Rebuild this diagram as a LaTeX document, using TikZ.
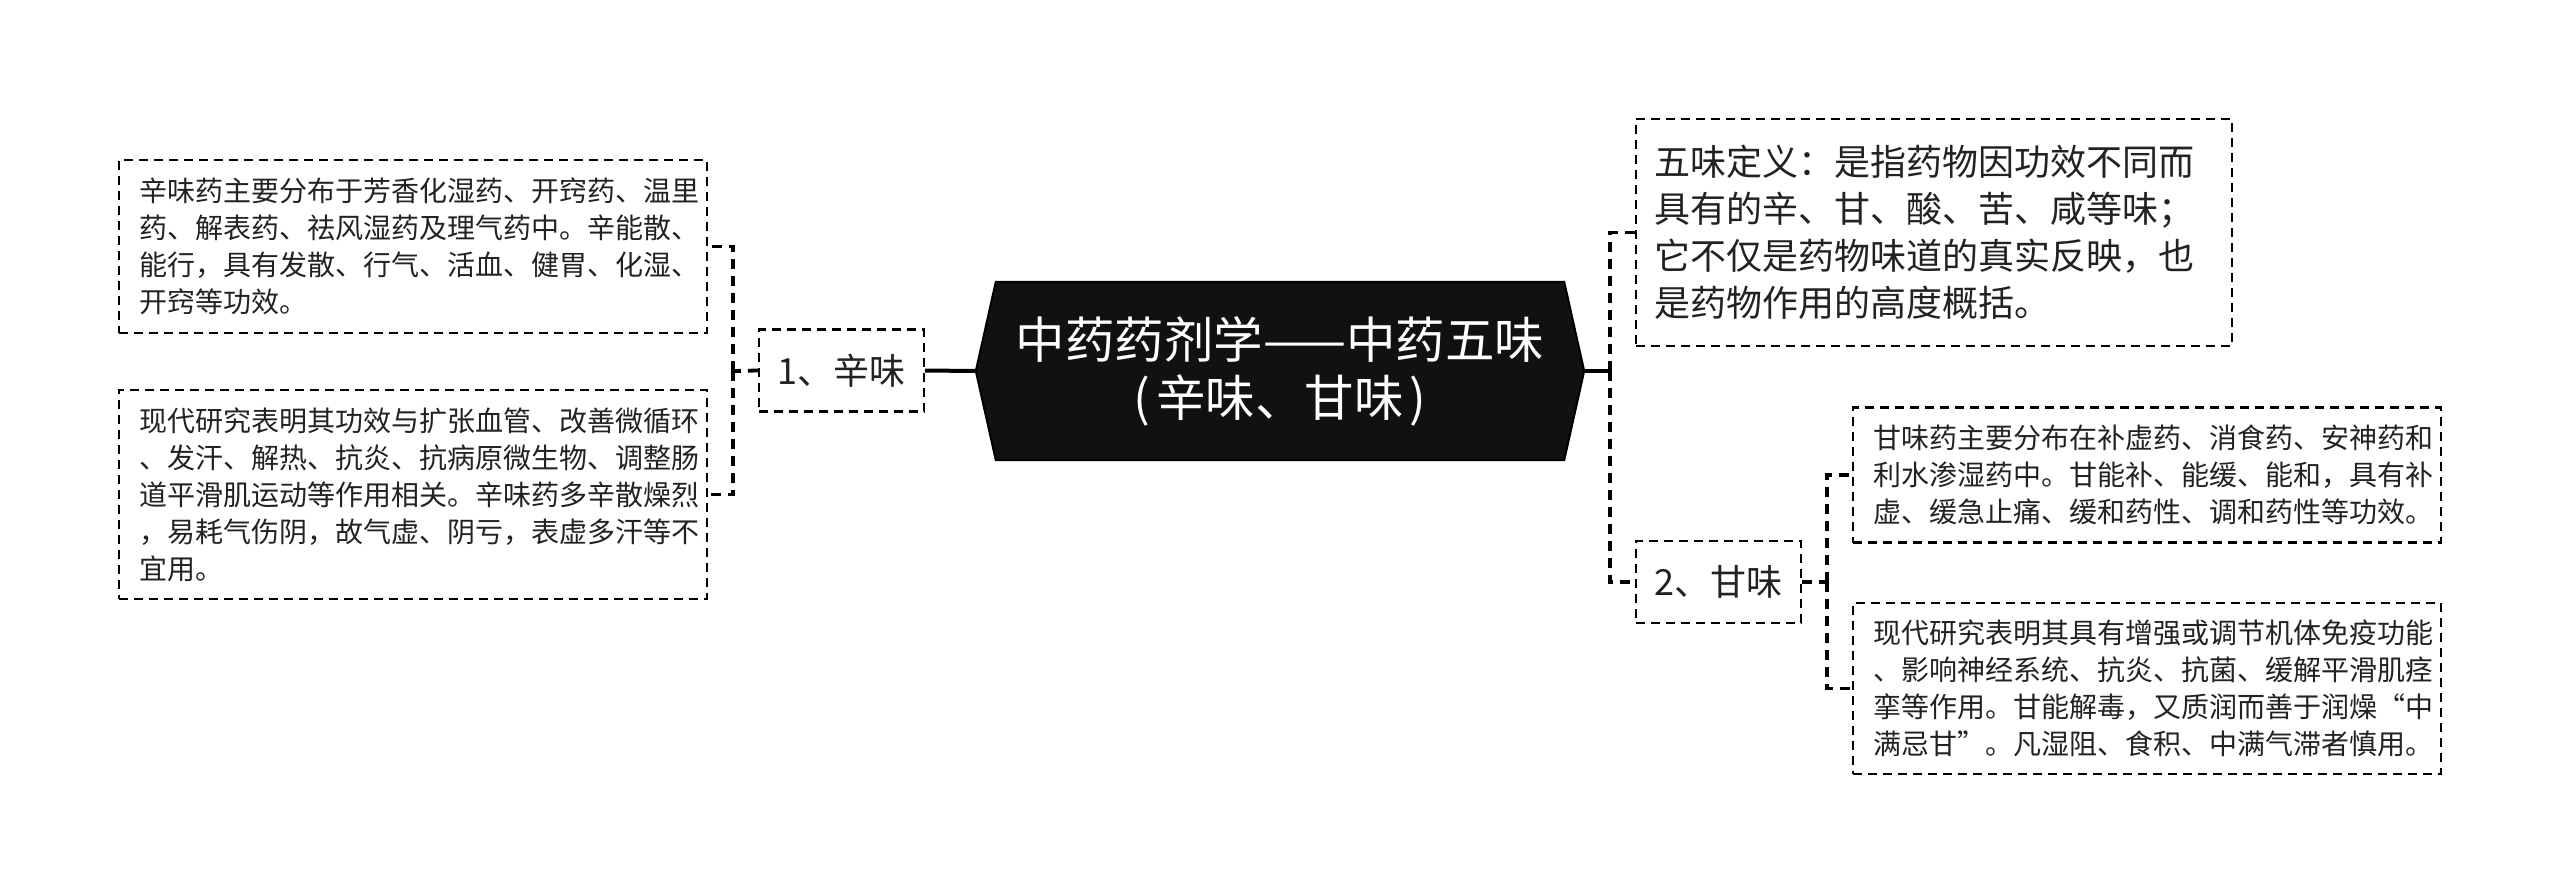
\documentclass[tikz,border=0pt]{standalone}
\usepackage{fontspec}
\setmainfont{Noto Sans CJK SC}
\newfontfamily\cjk{Noto Sans CJK SC}
\usetikzlibrary{backgrounds}
\definecolor{txt}{HTML}{222222}
\definecolor{rootfill}{HTML}{111111}
\tikzset{
  leafbox/.style={draw=black, line width=2.2pt, dash pattern=on 9pt off 6pt,
    inner xsep=20pt, inner ysep=0pt, align=left, text=txt,
    font=\cjk\fontsize{28}{37}\selectfont},
  defbox/.style={draw=black, line width=2.2pt, dash pattern=on 9pt off 6pt,
    inner xsep=18pt, inner ysep=0pt, align=left, text=txt,
    font=\cjk\fontsize{36}{47}\selectfont},
  midbox/.style={draw=black, line width=2.2pt, dash pattern=on 9pt off 6pt,
    minimum width=165pt, minimum height=82pt, inner sep=0pt, text=txt,
    font=\cjk\fontsize{36}{47}\selectfont},
  rootbox/.style={minimum width=608pt, minimum height=178pt, inner sep=0pt,
    align=center, text=white, font=\cjk\fontsize{49.5}{58}\selectfont},
  conn/.style={draw=black, line width=3.8pt, dash pattern=on 10pt off 7pt},
  rootline/.style={draw=black, line width=4pt},
}
\begin{document}
\begin{tikzpicture}[x=1pt,y=-1pt]
\useasboundingbox (0,0) rectangle (2560,895);

% root
\node[rootbox] (root) at (1280,371) {中药药剂学——中药五味\\(\kern6pt 辛味、甘味\kern6pt)};
\begin{scope}[on background layer]
\fill[white] (0,0) rectangle (2560,895);
\fill[rootfill, draw=black, line width=2pt]
  (root.west) -- ([xshift=20pt]root.north west) -- ([xshift=-20pt]root.north east)
  -- (root.east) -- ([xshift=-20pt]root.south east) -- ([xshift=20pt]root.south west) -- cycle;
\end{scope}

% left branch
\node[midbox] (xin) at (841.5,370.5) {1、辛味};
\node[leafbox, text width=548pt, minimum height=173pt] (l1) at (413,246.5)
  {辛味药主要分布于芳香化湿药、开窍药、温里\\药、解表药、祛风湿药及理气药中。辛能散、\\能行，具有发散、行气、活血、健胃、化湿、\\开窍等功效。};
\node[leafbox, text width=548pt, minimum height=209pt] (l2) at (413,494.5)
  {现代研究表明其功效与扩张血管、改善微循环\\、发汗、解热、抗炎、抗病原微生物、调整肠\\道平滑肌运动等作用相关。辛味药多辛散燥烈\\，易耗气伤阴，故气虚、阴亏，表虚多汗等不\\宜用。};

% right branch
\node[defbox, text width=560pt, minimum height=227pt] (def) at (1934,232.5)
  {五味定义：是指药物因功效不同而\\具有的辛、甘、酸、苦、咸等味；\\它不仅是药物味道的真实反映，也\\是药物作用的高度概括。};
\node[midbox] (gan) at (1718.5,582) {2、甘味};
\node[leafbox, text width=548pt, minimum height=135pt] (g1) at (2147,475)
  {甘味药主要分布在补虚药、消食药、安神药和\\利水渗湿药中。甘能补、能缓、能和，具有补\\虚、缓急止痛、缓和药性、调和药性等功效。};
\node[leafbox, text width=548pt, minimum height=171pt] (g2) at (2147,688.5)
  {现代研究表明其具有增强或调节机体免疫功能\\、影响神经系统、抗炎、抗菌、缓解平滑肌痉\\挛等作用。甘能解毒，又质润而善于润燥“中\\满忌甘”。凡湿阻、食积、中满气滞者慎用。};

% connectors
\coordinate (lj) at (733,371);
\coordinate (rj) at (1610,371);
\coordinate (gj) at (1827,582);
\draw[rootline] (xin.east) -- (root.west);
\draw[conn] (xin.west) -- (lj);
\draw[conn] (lj) |- (l1.east);
\draw[conn] (lj) |- (l2.east);
\draw[rootline] (root.east) -- (rj);
\draw[conn] (rj) |- (def.west);
\draw[conn] (rj) |- (gan.west);
\draw[conn] (gan.east) -- (gj);
\draw[conn] (gj) |- (g1.west);
\draw[conn] (gj) |- (g2.west);
\end{tikzpicture}
\end{document}
